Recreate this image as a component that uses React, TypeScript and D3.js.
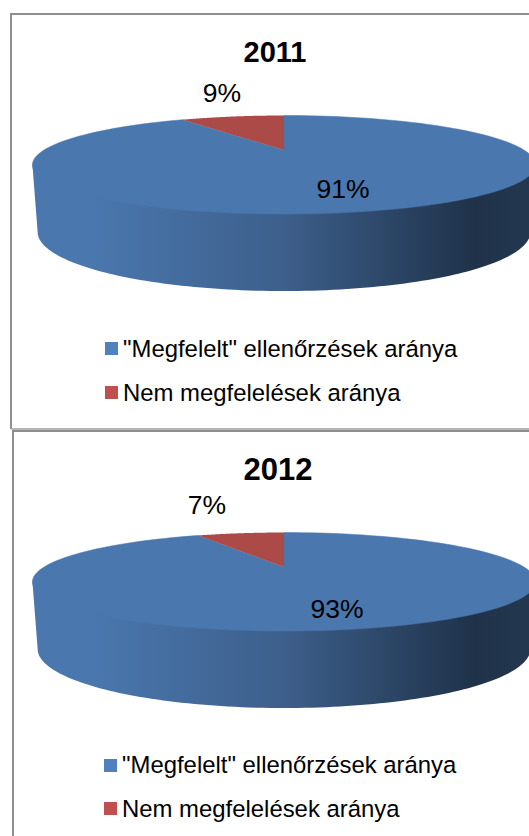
import React from "react";
import * as d3 from "d3";

const years = ["2011", "2012"];
const passShare = [91.1, 92.51];
const failShare = [8.9, 7.49];
const legendLabels = ['"Megfelelt" ellenőrzések aránya', "Nem megfelelések aránya"];
const legendColors = ["#4f81bd", "#c0504d"];
const topColors = ["#4a77ae", "#ab4a47"];

type Proj = { cx: number; y0: number; R: number; A: number; k: number };
const project = (p: Proj, a: number): [number, number] => {
  const u = Math.sin(a), v = Math.cos(a), d = 1 + p.k * v;
  return [p.cx + (p.R * u) / d, p.y0 - (p.A * v) / d];
};
const lineGen = d3.line();
const arcPts = (p: Proj, a0: number, a1: number) =>
  d3.range(0, 121).map((i) => project(p, a0 + ((a1 - a0) * i) / 120));

const layouts = [
  { dy: 0, titleX: 275, titleY: 62, titleSize: 29, lab: [[343, 198], [222, 102]], legX: 105, legTextX: 123, legY: [342, 386], legBase: [357, 401] },
  { dy: 417, titleX: 278, titleY: 480, titleSize: 31, lab: [[337, 618], [207, 514]], legX: 104, legTextX: 122, legY: [759, 802], legBase: [773, 817] },
];

function Pie({ i }: { i: number }) {
  const L = layouts[i];
  const top: Proj = { cx: 284, y0: 150 + L.dy, R: 240, A: 44.85, k: 0.3 };
  const bot: Proj = { cx: 284, y0: 214.3 + L.dy, R: 235, A: 53.7, k: 0.3 };
  const slices = d3.pie<number>().sort(null)([passShare[i], failShare[i]]);
  const tau = Math.PI * 2;
  // angle at which the projected circle is widest
  const sil = Math.PI / 2 + Math.asin(top.k);
  // the wall's upper edge runs under the disc, so no seam shows along the rim
  const side = lineGen([
    project(top, tau - sil),
    project(top, sil),
    ...arcPts(bot, sil, tau - sil),
  ]) + "Z";
  const [p, f] = slices;
  const wedge = (s: d3.PieArcDatum<number>) =>
    lineGen([[top.cx, top.y0], ...arcPts(top, s.startAngle, s.endAngle)]) + "Z";
  return (
    <g>
      <path d={side} fill="url(#sideGrad)" />
      <path d={wedge(p)} fill={topColors[0]} stroke={topColors[0]} strokeWidth={0.5} />
      <path d={wedge(f)} fill={topColors[1]} />
      <g fontFamily="'Liberation Sans', Arial, sans-serif" fill="#000">
        <text x={L.titleX} y={L.titleY} fontSize={L.titleSize} fontWeight="bold" textAnchor="middle">{years[i]}</text>
        <text x={L.lab[0][0]} y={L.lab[0][1]} fontSize={26.5} textAnchor="middle">{Math.round(passShare[i])}%</text>
        <text x={L.lab[1][0]} y={L.lab[1][1]} fontSize={26.5} textAnchor="middle">{Math.round(failShare[i])}%</text>
        {legendLabels.map((t, j) => (
          <g key={t}>
            <rect x={L.legX} y={L.legY[j]} width={13} height={13} fill={legendColors[j]} />
            <text x={L.legTextX} y={L.legBase[j]} fontSize={23.9}>{t}</text>
          </g>
        ))}
      </g>
    </g>
  );
}

export default function App() {
  return (
    <svg width={529} height={836} style={{ position: "fixed", left: 0, top: 0, background: "#fff" }}>
      <defs>
        <linearGradient id="sideGrad" x1="0" x2="1" y1="0" y2="0">
          <stop offset="0.12" stopColor="#4a77ae" />
          <stop offset="0.5" stopColor="#3d5f8b" />
          <stop offset="0.88" stopColor="#1f3249" />
          <stop offset="1" stopColor="#24384f" />
        </linearGradient>
      </defs>
      <path d="M11,429V14H529" fill="none" stroke="#8e8e8e" strokeWidth={2} />
      <path d="M11,429H529" fill="none" stroke="#b5b5b5" strokeWidth={2} />
      <path d="M13,836V431H529" fill="none" stroke="#8e8e8e" strokeWidth={2} />
      {years.map((y, i) => <Pie key={y} i={i} />)}
    </svg>
  );
}
